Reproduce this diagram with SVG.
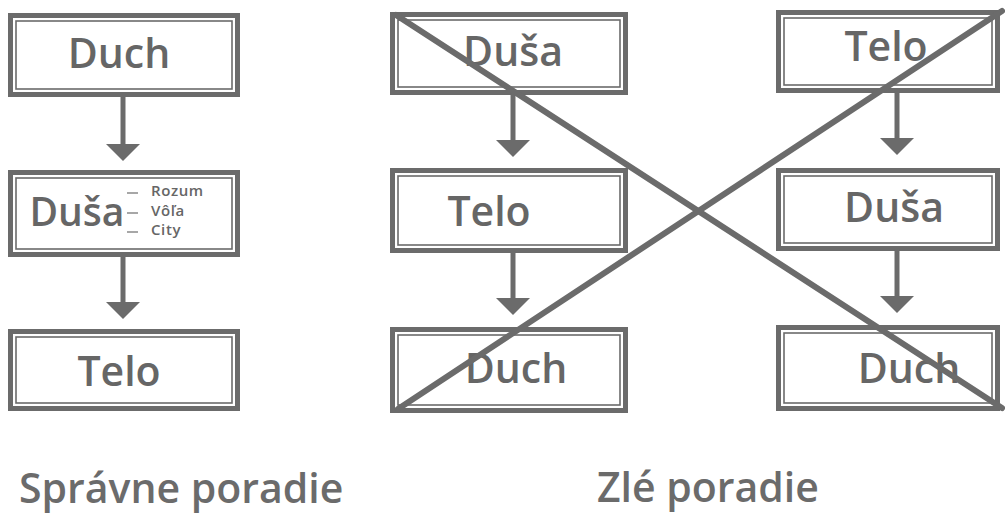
<svg xmlns="http://www.w3.org/2000/svg" width="1005" height="516" viewBox="0 0 1005 516">
<style>
.outer{fill:none;stroke:#6b6b6b;stroke-width:5}
.inner{fill:none;stroke:#6b6b6b;stroke-width:1.6}
.lbl{font-family:"Open Sans","Liberation Sans",sans-serif;font-weight:600;font-size:41px;fill:#666;text-anchor:middle}
.sm{font-family:"Open Sans","Liberation Sans",sans-serif;font-weight:600;font-size:15px;letter-spacing:0.6px;fill:#666}
.cap{font-family:"Open Sans","Liberation Sans",sans-serif;font-weight:600;font-size:41px;fill:#6b6b6b}
.shaft{stroke:#6b6b6b;stroke-width:5}
.head{fill:#6b6b6b}
.cross{stroke:#6b6b6b;stroke-width:6;stroke-linecap:round}
</style>
<rect width="1005" height="516" fill="#fff"/>
<g id="left-duch"><rect class="outer" x="10.5" y="15.5" width="227" height="79"/><rect class="inner" x="16" y="21" width="216" height="68"/><text class="lbl" x="119" y="68">Duch</text></g>
<g id="left-dusa"><rect class="outer" x="10.5" y="172.5" width="227" height="82"/><rect class="inner" x="16" y="178" width="216" height="71"/><text class="lbl" x="77" y="226" style="font-size:39px">Duša</text>
<g stroke="#777" stroke-width="1.3"><line x1="127" y1="193" x2="138" y2="193"/><line x1="127" y1="213" x2="138" y2="213"/><line x1="127" y1="232" x2="138" y2="232"/></g>
<text class="sm" x="151" y="196">Rozum</text><text class="sm" x="151" y="216">Vôľa</text><text class="sm" x="151" y="235">City</text></g>
<g id="left-telo"><rect class="outer" x="10.5" y="331.5" width="227" height="77"/><rect class="inner" x="16" y="337" width="216" height="66"/><text class="lbl" x="119" y="386">Telo</text></g>
<g id="mid-dusa"><rect class="outer" x="392.5" y="14.5" width="233" height="78"/><rect class="inner" x="398" y="20" width="222" height="67"/><text class="lbl" x="513" y="66">Duša</text></g>
<g id="mid-telo"><rect class="outer" x="392.5" y="170.5" width="233" height="80"/><rect class="inner" x="398" y="176" width="222" height="69"/><text class="lbl" x="489" y="226">Telo</text></g>
<g id="mid-duch"><rect class="outer" x="392.5" y="329.5" width="233" height="81"/><rect class="inner" x="398" y="335" width="222" height="70"/><text class="lbl" x="516" y="383">Duch</text></g>
<g id="right-telo"><rect class="outer" x="778.5" y="12.5" width="219" height="78"/><rect class="inner" x="784" y="18" width="208" height="67"/><text class="lbl" x="886" y="61">Telo</text></g>
<g id="right-dusa"><rect class="outer" x="778.5" y="170.5" width="219" height="78"/><rect class="inner" x="784" y="176" width="208" height="67"/><text class="lbl" x="894" y="222">Duša</text></g>
<g id="right-duch"><rect class="outer" x="778.5" y="327.5" width="219" height="81"/><rect class="inner" x="784" y="333" width="208" height="70"/><text class="lbl" x="909" y="383">Duch</text></g>
<g id="connectors">
<line class="shaft" x1="123" y1="97" x2="123" y2="146"/><polygon class="head" points="106,144 140,144 123,161"/>
<line class="shaft" x1="123" y1="257" x2="123" y2="304"/><polygon class="head" points="106,302 140,302 123,319"/>
<line class="shaft" x1="513" y1="93" x2="513" y2="142"/><polygon class="head" points="496,140 530,140 513,157"/>
<line class="shaft" x1="513" y1="251" x2="513" y2="300"/><polygon class="head" points="496,298 530,298 513,315"/>
<line class="shaft" x1="897" y1="91" x2="897" y2="140"/><polygon class="head" points="880,138 914,138 897,155"/>
<line class="shaft" x1="897" y1="249" x2="897" y2="298"/><polygon class="head" points="880,296 914,296 897,313"/>
</g>
<g id="cross"><line class="cross" x1="396" y1="15" x2="1002" y2="408"/><line class="cross" x1="398" y1="409" x2="1002" y2="11"/></g>
<text class="cap" x="19" y="503">Správne poradie</text>
<text class="cap" x="597" y="502">Zlé poradie</text>
</svg>
